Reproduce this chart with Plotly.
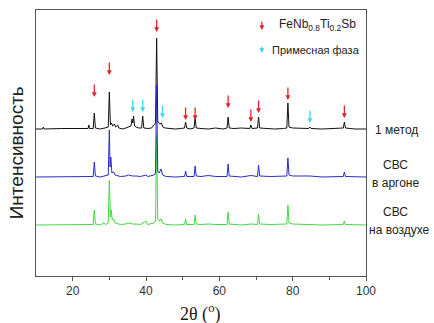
import plotly.graph_objects as go

# ---- data (2θ in degrees, intensity in arbitrary units above each baseline) ----
black_x = [10, 11.8, 12.0, 12.2, 17, 22, 24.2, 24.4, 24.6, 25.6, 25.9, 26.2, 27.5, 28.8, 29.7, 30.0, 30.3,
           30.6, 30.9, 31.2, 31.4, 31.7, 32.0, 32.3, 32.6, 33.5, 34.5, 35.2, 35.9, 36.2, 36.4, 36.6, 36.9,
           37.3, 38.0, 38.8, 39.1, 39.4, 40.5, 41.5, 42.2, 42.6, 42.9, 43.2, 43.5, 43.8, 44.2, 44.6, 45.2,
           46.5, 48, 49.5, 50.5, 50.8, 51.1, 52, 53.1, 53.4, 53.7, 55, 57, 59, 61, 62.1, 62.4, 62.7, 64, 66,
           68.3, 68.6, 68.9, 70.4, 70.7, 71.0, 72.5, 75, 77.5, 78.4, 78.7, 79.0, 80.0, 82, 84.4, 84.7, 85.0,
           88, 91, 93.8, 94.1, 94.4, 97, 100]
black_y = [0, 0, 2, 0, 0.5, 0, 0.5, 4, 0.5, 0.5, 16, 1, 0, 1, 2, 37, 4,
           6, 3, 4, 5, 2, 3, 4, 1, 0, 1, 2, 3, 10, 6, 13, 3,
           2, 1, 1, 13, 1, 0.5, 1, 4, 6, 91, 8, 6, 5, 6, 2, 1,
           0.5, 0, 0.5, 1, 7, 1, 0, 1, 12, 1, 0.5, 0, 1, 0, 1, 12, 1, 0.5, 1,
           0.5, 4, 0.5, 1, 12, 1, 0.5, 0, 0.5, 1, 26, 2, 1, 0.5, 0.5, 2, 0.5,
           0, 0.5, 1, 7, 1, 0, 0]

blue_x = [10, 20, 25.6, 25.9, 26.2, 27.5, 28.8, 29.7, 30.0, 30.2, 30.4, 30.7, 31.2, 31.6, 33, 34.5, 35.2,
          36.3, 37.3, 38.5, 40.0, 40.5, 42.2, 42.6, 42.9, 43.2, 43.6, 44.1, 44.5, 45.5, 48, 50.5, 50.8,
          51.1, 53.1, 53.4, 53.7, 55, 57, 59, 62.1, 62.4, 62.7, 66, 68.6, 70.4, 70.7, 71.0, 74, 78.4, 78.7,
          79.0, 80, 84.7, 88, 93.8, 94.1, 94.4, 100]
blue_y = [0, 0, 0.5, 15, 1, 0, 1, 2, 47, 10, 20, 4, 5, 2, 0.5, 1, 2,
          1, 1, 0.5, 2, 0.5, 2, 4, 92, 6, 4, 8, 2, 0.5, 0, 0.5, 6,
          0.5, 0.5, 11, 1, 0.5, 1.5, 0.5, 0.5, 13, 1, 0, 1.5, 0.5, 12, 1, 0.5, 1, 19,
          2, 1, 1, 0, 0.5, 5, 0.5, 0]

green_x = [10, 20, 25.6, 25.9, 26.2, 27.5, 28.5, 29.0, 29.7, 30.0, 30.3, 30.5, 30.8, 31.2, 31.6, 33, 34.5,
           35.2, 36.3, 37.3, 38.5, 40.0, 40.4, 42.2, 42.6, 42.9, 43.2, 43.6, 44.1, 44.5, 45.5, 48, 50.5,
           50.8, 51.1, 53.1, 53.4, 53.7, 55, 57, 59, 62.1, 62.4, 62.7, 66, 68.6, 70.4, 70.7, 71.0, 74, 78.4,
           78.7, 79.0, 80, 84.7, 88, 93.8, 94.1, 94.4, 100]
green_y = [0, 0, 0.5, 15, 1, 0, 2, 0.5, 2, 45, 8, 15, 5, 6, 2, 0.5, 1,
           2, 1, 1, 0.5, 4, 0.5, 2, 4, 90, 6, 4, 6, 2, 0.5, 0, 0.5,
           6, 0.5, 0.5, 10, 1, 0.5, 1, 0.5, 0.5, 13, 1, 0, 1, 0.5, 11, 1, 0.5, 1,
           20, 2, 1, 0.5, 0, 0.5, 4, 0.5, 0]

# marker arrows: 2θ position and arrow-tip intensity (absolute, on the stacked scale)
main_phase_x = [25.9, 30.0, 42.9, 50.8, 53.4, 62.4, 68.6, 70.7, 78.7, 94.1]
main_phase_tip = [179, 201, 244, 156, 156, 168, 154, 163, 176, 158]
impurity_x = [36.4, 39.1, 44.5, 84.7]
impurity_tip = [164, 164, 158, 153]

x_ticks = [20, 40, 60, 80, 100]

# ---- layout constants ----
OFF_BLACK, OFF_BLUE, OFF_GREEN = 147, 99, 51
RED = "#e3222c"
CYAN = "#3fd6ee"
FONT = "Liberation Sans, Arial, sans-serif"
ARROW = dict(arrowhead=2, arrowsize=0.75, arrowwidth=1.3)

fig = go.Figure()
fig.add_trace(go.Scatter(x=black_x, y=[v + OFF_BLACK for v in black_y], mode="lines",
                         line=dict(color="#111111", width=1), showlegend=False))
fig.add_trace(go.Scatter(x=green_x, y=[v + OFF_GREEN for v in green_y], mode="lines",
                         line=dict(color="#3fdc3f", width=1), showlegend=False))
fig.add_trace(go.Scatter(x=blue_x, y=[v + OFF_BLUE for v in blue_y], mode="lines",
                         line=dict(color="#2a2ac8", width=1), showlegend=False))

ann = []
for xv, yv in zip(main_phase_x, main_phase_tip):
    ann.append(dict(x=xv, y=yv, xref="x", yref="y", text="", showarrow=True, ax=0, ay=-14,
                    arrowcolor=RED, **ARROW))
for xv, yv in zip(impurity_x, impurity_tip):
    ann.append(dict(x=xv, y=yv, xref="x", yref="y", text="", showarrow=True, ax=0, ay=-14,
                    arrowcolor=CYAN, **ARROW))

# legend (arrows + labels)
ann.append(dict(x=71.6, y=246, xref="x", yref="y", text="", showarrow=True, ax=0, ay=-10,
                arrowcolor=RED, **ARROW))
ann.append(dict(x=75.7, y=251, xref="x", yref="y", text="FeNb<sub>0.8</sub>Ti<sub>0.2</sub>Sb",
                showarrow=False, xanchor="left", yanchor="middle",
                font=dict(family=FONT, size=12, color="#222")))
ann.append(dict(x=71.6, y=223, xref="x", yref="y", text="", showarrow=True, ax=0, ay=-8,
                arrowcolor=CYAN, **ARROW))
ann.append(dict(x=73.8, y=226, xref="x", yref="y", text="Примесная фаза",
                showarrow=False, xanchor="left", yanchor="middle",
                font=dict(family=FONT, size=11, color="#222")))

# right-side series labels
ann.append(dict(x=1.021, y=146, xref="paper", yref="y", text="1 метод", showarrow=False,
                xanchor="left", yanchor="middle", font=dict(family=FONT, size=12, color="#222")))
ann.append(dict(x=1.088, y=111, xref="paper", yref="y", text="СВС", showarrow=False,
                xanchor="center", yanchor="middle", font=dict(family=FONT, size=12, color="#222")))
ann.append(dict(x=1.088, y=93, xref="paper", yref="y", text="в аргоне", showarrow=False,
                xanchor="center", yanchor="middle", font=dict(family=FONT, size=12, color="#222")))
ann.append(dict(x=1.088, y=64, xref="paper", yref="y", text="СВС", showarrow=False,
                xanchor="center", yanchor="middle", font=dict(family=FONT, size=12, color="#222")))
ann.append(dict(x=1.103, y=46, xref="paper", yref="y", text="на воздухе", showarrow=False,
                xanchor="center", yanchor="middle", font=dict(family=FONT, size=12, color="#222")))

# axis titles
ann.append(dict(x=-0.06, y=0.462, xref="paper", yref="paper", text="Интенсивность", textangle=-90,
                showarrow=False, xanchor="center", yanchor="middle",
                font=dict(family=FONT, size=19, color="#222")))
ann.append(dict(x=0.497, y=-0.139, xref="paper", yref="paper", text="2θ (<sup>o</sup>)",
                showarrow=False, xanchor="center", yanchor="middle",
                font=dict(family="Liberation Serif, Times New Roman, serif", size=18, color="#222")))

fig.update_layout(
    width=434, height=323,
    margin=dict(l=36, r=68, t=10, b=47),
    paper_bgcolor="white", plot_bgcolor="white",
    annotations=ann,
    xaxis=dict(range=[10, 100], tickvals=x_ticks, ticktext=[str(t) for t in x_ticks],
               showgrid=False, zeroline=False, showline=True, mirror=True,
               linecolor="#555", linewidth=1, ticks="outside", ticklen=4, tickcolor="#555",
               minor=dict(tickvals=[30, 50, 70, 90], ticks="outside", ticklen=3, tickcolor="#555"),
               tickfont=dict(family=FONT, size=12, color="#333")),
    yaxis=dict(range=[0, 266], showticklabels=False, ticks="", showgrid=False, zeroline=False,
               showline=True, mirror=True, linecolor="#555", linewidth=1),
)

fig.write_html("out.html")
